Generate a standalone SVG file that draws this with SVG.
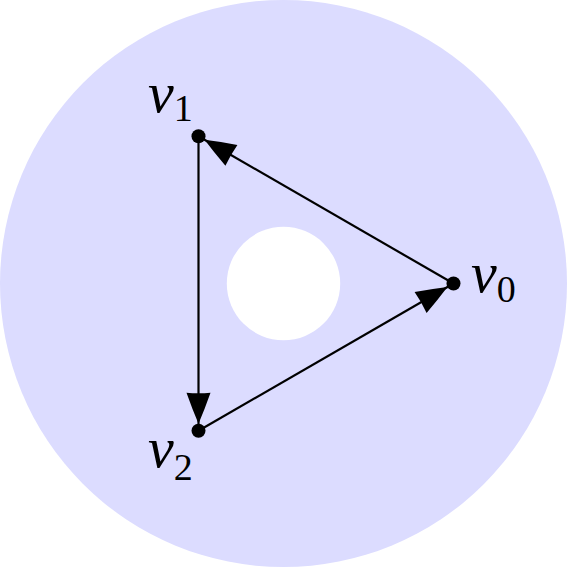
<svg xmlns="http://www.w3.org/2000/svg" width="567" height="567" viewBox="0 0 567 567">
<style>
.edge{stroke:#000;stroke-width:2.2;fill:none;marker-end:url(#ah)}
.dot{fill:#000}
.lbl{font-family:"Liberation Serif",serif;font-style:italic;font-size:58px;fill:#000}
.sub{font-family:"Liberation Serif",serif;font-style:normal;font-size:38px;fill:#000}
</style>
<defs>
<marker id="ah" markerUnits="userSpaceOnUse" markerWidth="40" markerHeight="30" refX="38" refY="12" orient="auto" overflow="visible">
<path d="M0,0 Q17,6 31,12 Q17,18 0,24 Q1,12 0,0 Z" fill="#000"/>
</marker>
</defs>
<g id="background">
<circle cx="283.5" cy="283.5" r="283.5" fill="#dcdcff"/>
<circle cx="283.5" cy="283.5" r="56.7" fill="#fff"/>
</g>
<g id="connectors">
<line class="edge" x1="453.5" y1="283.5" x2="198.5" y2="136.3"/>
<line class="edge" x1="198.5" y1="136.3" x2="198.5" y2="430.7"/>
<line class="edge" x1="198.5" y1="430.7" x2="453.5" y2="283.5"/>
</g>
<g id="v0">
<circle class="dot" cx="453.5" cy="283.5" r="7"/>
<text x="471" y="292" class="lbl">v<tspan class="sub" dy="10">0</tspan></text>
</g>
<g id="v1">
<circle class="dot" cx="198.5" cy="136.3" r="7"/>
<text x="148" y="112" class="lbl">v<tspan class="sub" dy="9">1</tspan></text>
</g>
<g id="v2">
<circle class="dot" cx="198.5" cy="430.7" r="7"/>
<text x="148" y="467" class="lbl">v<tspan class="sub" dy="13">2</tspan></text>
</g>
</svg>
